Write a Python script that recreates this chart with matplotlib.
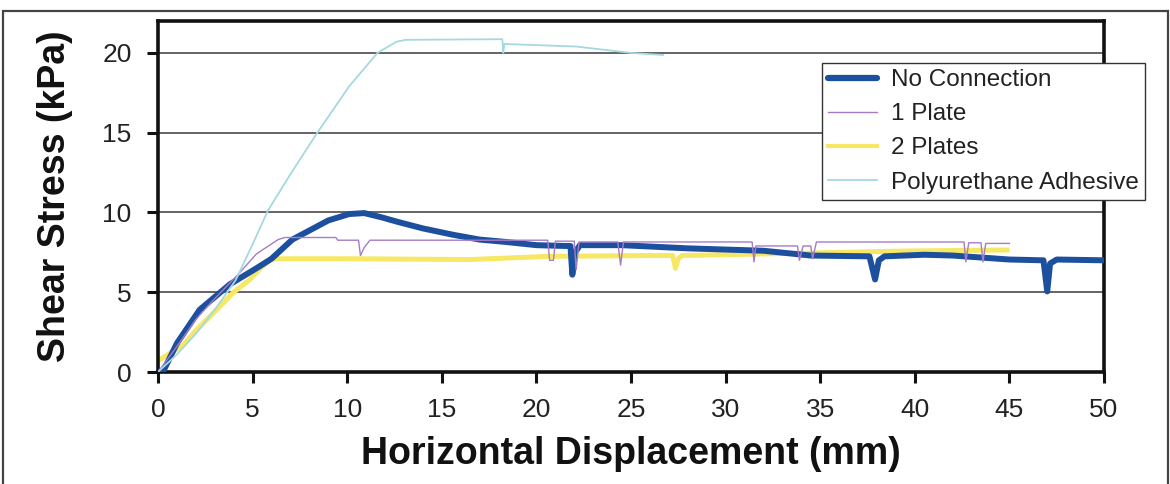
import matplotlib
matplotlib.use("Agg")
import matplotlib.pyplot as plt
from matplotlib.patches import Rectangle

# ---------------- data ----------------
nc_x = [0, 0.3, 1.0, 2.2, 3.1, 3.8, 5.2, 6.0, 7.1, 8.05, 9.0, 10.1, 10.9, 11.8, 12.7,
        14.0, 15.6, 17.0, 18.4, 20.0, 21.5, 21.8, 21.9, 22.05, 22.3, 24.5, 28.0, 32.0,
        34.5, 37.6, 37.9, 38.1, 38.4, 40.5, 42.0, 45.0, 46.8, 47.0, 47.15, 47.5, 50.0]
nc_y = [0, 0.1, 1.8, 3.9, 4.8, 5.5, 6.5, 7.1, 8.3, 8.9, 9.5, 9.9, 9.96, 9.7, 9.4,
        9.0, 8.6, 8.3, 8.15, 7.95, 7.9, 7.9, 6.1, 7.5, 7.95, 7.95, 7.75, 7.6,
        7.3, 7.25, 5.8, 7.0, 7.25, 7.35, 7.3, 7.05, 7.0, 5.05, 6.8, 7.05, 7.0]

p1_x = [0, 1.0, 2.0, 3.0, 4.3, 5.2, 6.35, 6.7, 9.4, 9.5, 10.6, 10.7, 10.9, 11.2,
        20.6, 20.7, 20.9, 21.0, 22.0, 22.1, 22.25, 24.3, 24.45, 24.6, 31.4, 31.5,
        31.6, 33.8, 33.9, 34.1, 34.5, 34.6, 34.8, 42.6, 42.7, 42.85, 43.5, 43.6,
        43.75, 45.0]
p1_y = [0, 1.6, 3.3, 4.6, 6.2, 7.4, 8.3, 8.43, 8.43, 8.26, 8.26, 7.3, 7.8, 8.26,
        8.26, 7.0, 7.0, 8.2, 8.2, 6.4, 8.15, 8.15, 6.7, 8.15, 8.15, 6.9,
        7.9, 7.9, 7.0, 7.9, 7.9, 7.1, 8.15, 8.15, 6.9, 8.1, 8.1, 6.9,
        8.06, 8.06]

p2_x = [0, 1.34, 2.0, 3.1, 4.0, 4.86, 5.5, 6.0, 10.0, 16.5, 20.7, 26.0, 27.2,
        27.35, 27.5, 27.7, 32.0, 39.4, 45.0]
p2_y = [0.7, 1.7, 2.6, 3.9, 5.0, 5.8, 6.6, 7.1, 7.1, 7.05, 7.25, 7.3, 7.3,
        6.5, 7.1, 7.3, 7.4, 7.58, 7.65]

pu_x = [0, 1.0, 2.0, 3.0, 4.1, 5.0, 5.8, 7.0, 8.4, 10.1, 11.6, 12.6, 13.1,
        18.2, 18.25, 18.3, 22.1, 25.0, 26.7]
pu_y = [0, 1.1, 2.4, 3.9, 5.75, 8.0, 10.1, 12.4, 14.96, 17.9, 20.0, 20.7, 20.82,
        20.86, 20.0, 20.56, 20.4, 20.0, 19.87]

labels = ["No Connection", "1 Plate", "2 Plates", "Polyurethane Adhesive"]
x_ticks = [0, 5, 10, 15, 20, 25, 30, 35, 40, 45, 50]
y_ticks = [0, 5, 10, 15, 20]

# ---------------- figure ----------------
plt.rcParams['font.family'] = ['Liberation Sans', 'DejaVu Sans']
W, H = 1170, 484
fig = plt.figure(figsize=(W / 100, H / 100), dpi=100)
ax = fig.add_axes([158 / W, 1 - 372 / H, (1104 - 158) / W, (372 - 21) / H])

ax.set_xlim(0, 50)
ax.set_ylim(0, 22)
ax.set_xticks(x_ticks)
ax.set_yticks(y_ticks)
for y in y_ticks[1:]:
    ax.axhline(y, color='#3a3a3a', lw=1.1, zorder=1)

l2, = ax.plot(p2_x, p2_y, color='#f6e864', lw=3.6, zorder=2, solid_capstyle='butt')
l0, = ax.plot(nc_x, nc_y, color='#1d4f9f', lw=4.3, zorder=3, solid_joinstyle='round')
l1, = ax.plot(p1_x, p1_y, color='#a47cc8', lw=1.0, zorder=4)
l3, = ax.plot(pu_x, pu_y, color='#a6d8e0', lw=1.3, zorder=5)

for s in ax.spines.values():
    s.set_linewidth(2.6)
    s.set_color('#111111')
ax.tick_params(axis='both', direction='out', length=8, width=2.2, color='#111111',
               labelsize=19, labelcolor='#222222', pad=11)

ax.set_xlabel("Horizontal Displacement (mm)", fontsize=27, fontweight='bold',
              color='#111111', labelpad=10)
ax.set_ylabel("Shear Stress (kPa)", fontsize=27, fontweight='bold',
              color='#111111', labelpad=21)

h0 = plt.Line2D([], [], color='#1d4f9f', lw=4.5, solid_capstyle='round')
h1 = plt.Line2D([], [], color='#a47cc8', lw=1.0)
h2 = plt.Line2D([], [], color='#f6e864', lw=3.0)
h3 = plt.Line2D([], [], color='#a6d8e0', lw=1.3)
leg = fig.legend([h0, h1, h2, h3], labels, loc='upper left',
                 bbox_to_anchor=(822 / W, 1 - 63 / H), fontsize=17.5,
                 frameon=True, fancybox=False, framealpha=1, edgecolor='#333333',
                 handlelength=2.0, handletextpad=0.6, labelspacing=0.5,
                 borderpad=0.25, borderaxespad=0)
leg.get_frame().set_linewidth(1.0)
for t in leg.get_texts():
    t.set_color('#222222')

fig.add_artist(Rectangle((3 / W, -0.02), (1168 - 3) / W, (H - 11) / H + 0.02,
                         transform=fig.transFigure, fill=False, lw=1.6,
                         ec='#444444'))

fig.savefig("out.png", dpi=100)
